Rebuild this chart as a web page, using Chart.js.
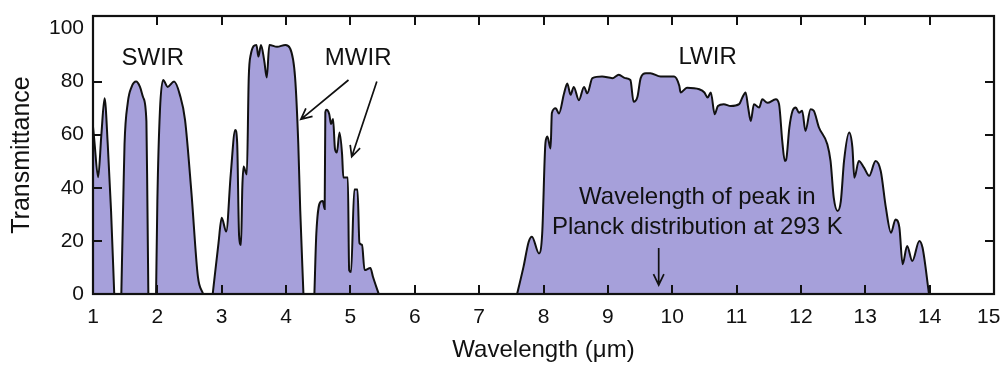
<!DOCTYPE html>
<html lang="en">

<head>
    <meta charset="UTF-8">
    <title>Atmospheric Transmittance</title>
    <script src="https://cdn.jsdelivr.net/npm/chart.js"></script>
    <style>
        body {
            margin: 0;
            background: #fff;
        }
    </style>
</head>

<body>
    <canvas id="transChart" width="1002" height="367"></canvas>

    <script>
        // wavelength in um, transmittance in %
        var band1Wl = [1.0, 1.02, 1.08, 1.13, 1.18, 1.23, 1.28, 1.33];
        var band1Tr = [63, 58, 44, 60, 73.7, 56, 31.6, 0];

        var band2Wl = [1.44, 1.47, 1.49, 1.54, 1.60, 1.67, 1.73, 1.78, 1.83, 1.845, 1.86];
        var band2Tr = [0, 35, 56.5, 72, 78, 80, 78, 74, 65, 35, 0];

        var band3Wl = [1.98, 2.00, 2.04, 2.09, 2.16, 2.26, 2.35, 2.43, 2.53, 2.63, 2.71];
        var band3Tr = [0, 35, 69, 80.6, 78, 80, 75, 65.6, 38, 6.5, 0];

        var band4Wl = [2.86, 2.95, 3.0, 3.07, 3.14, 3.21, 3.24, 3.27, 3.30, 3.32, 3.34, 3.37, 3.39, 3.42, 3.45, 3.54,
            3.57, 3.61, 3.66, 3.70, 3.74, 3.86, 3.99, 4.06, 4.14, 4.19, 4.22, 4.27];
        var band4Tr = [0, 19.2, 28.7, 23.5, 45, 61.8, 57, 22, 18.5, 40, 48, 46, 45, 81.5, 90, 93.8,
            89.4, 93.8, 88, 81.5, 93.8, 93.1, 93.8, 92.6, 81.6, 56.4, 31.6, 0];

        var band5Wl = [4.44, 4.47, 4.54, 4.57, 4.60, 4.61, 4.63, 4.67, 4.70, 4.73, 4.76, 4.79, 4.83, 4.87, 4.89,
            4.96, 4.98, 5.01, 5.06, 5.11, 5.14, 5.18, 5.22, 5.31, 5.35, 5.44];
        var band5Tr = [0, 22.7, 34.8, 35, 32, 68.4, 69.4, 67.8, 64, 65.9, 54.6, 53.3, 60.8, 52.7, 43.9,
            43.9, 9, 8.3, 39.4, 39.4, 19.2, 18.5, 9, 9.8, 6.5, 0];

        var band6Wl = [7.59, 7.69, 7.77, 7.82, 7.93, 7.98, 8.03, 8.06, 8.11, 8.13, 8.19, 8.24, 8.32, 8.37, 8.42,
            8.47, 8.55, 8.63, 8.68, 8.76, 8.91, 9.07, 9.17, 9.27, 9.35, 9.40, 9.46, 9.51, 9.59, 9.66, 9.82,
            10.03, 10.11, 10.13, 10.23, 10.42, 10.50, 10.55, 10.60, 10.66, 10.71, 10.80, 10.91, 11.04, 11.09,
            11.14, 11.18, 11.22, 11.27, 11.35, 11.40, 11.48, 11.61, 11.66, 11.71, 11.75, 11.77, 11.82, 11.87,
            11.92, 11.97, 12.02, 12.07, 12.15, 12.20, 12.28, 12.41, 12.46, 12.51, 12.57, 12.62, 12.67, 12.75,
            12.80, 12.83, 12.90, 12.98, 13.06, 13.16, 13.24, 13.32, 13.40, 13.47, 13.53, 13.58, 13.65, 13.73,
            13.84, 13.89, 13.99];
        var band6Tr = [0, 10.3, 19.7, 21.6, 15.3, 22.9, 56.8, 59.3, 54.8, 68.2, 70, 68, 75.6, 79.3, 75,
            78, 73, 78, 75.6, 81.3, 81.9, 81.3, 82.6, 81.3, 80.6, 72.4, 74.3, 81.3, 83.1, 83.1, 81.9,
            81.9, 78.4, 75.9, 77.7, 77.1, 75.9, 74, 75.9, 67.7, 70.8, 71.5, 70.8, 71.5, 74,
            75.9, 70.2, 65.2, 71.5, 70.2, 73.3, 72, 73.3, 71.5, 57.6, 50.1, 50.5, 62.7, 69,
            70.2, 68.3, 69, 61.4, 69.6, 69, 62.7, 56.4, 50.1, 36.3, 31.3, 35, 50.1, 60.8,
            55.1, 43.8, 50.1, 47.6, 44.5, 50.1, 46.3, 32.5, 23.1, 28.1, 25, 11.2, 18.1, 12.4,
            20, 17.4, 0];

        var xTicks = [1, 2, 3, 4, 5, 6, 7, 8, 9, 10, 11, 12, 13, 14, 15];
        var yTicks = [0, 20, 40, 60, 80, 100];

        // labels and arrows placed in data units
        var notes = [
            { text: 'SWIR', x: 1.93, y: 88.9 },
            { text: 'MWIR', x: 5.12, y: 88.9 },
            { text: 'LWIR', x: 10.55, y: 89.3 },
            { text: 'Wavelength of peak in', x: 10.39, y: 36.5 },
            { text: 'Planck distribution at 293 K', x: 10.39, y: 25.2 }
        ];
        var arrows = [
            { x1: 4.97, y1: 80.6, x2: 4.23, y2: 65.8 },
            { x1: 5.41, y1: 80, x2: 5.02, y2: 51.7 },
            { x1: 9.79, y1: 17.3, x2: 9.79, y2: 3.4 }
        ];

        var FONT = "'Liberation Sans', Arial, Helvetica, sans-serif";
        var INK = '#111';
        var FILL = 'rgb(166, 160, 218)';

        function toPoints(xs, ys) {
            return xs.map((v, i) => ({ x: v, y: ys[i] }));
        }

        var bands = [
            [band1Wl, band1Tr], [band2Wl, band2Tr], [band3Wl, band3Tr],
            [band4Wl, band4Tr], [band5Wl, band5Tr], [band6Wl, band6Tr]
        ];

        var datasets = bands.map(b => ({
            data: toPoints(b[0], b[1]),
            borderColor: INK,
            borderWidth: 2,
            backgroundColor: FILL,
            fill: 'origin',
            pointRadius: 0,
            cubicInterpolationMode: 'monotone'
        }));

        var framePlugin = {
            id: 'frame',
            afterDatasetsDraw(chart) {
                var ctx = chart.ctx;
                var a = chart.chartArea;
                var xs = chart.scales.x;
                var ys = chart.scales.y;
                var tl = 9;

                ctx.save();
                ctx.strokeStyle = INK;
                ctx.lineWidth = 2.2;
                ctx.strokeRect(a.left, a.top, a.right - a.left, a.bottom - a.top);

                ctx.lineWidth = 2;
                ctx.beginPath();
                xTicks.slice(1, -1).forEach(v => {
                    var px = Math.round(xs.getPixelForValue(v));
                    ctx.moveTo(px, a.bottom);
                    ctx.lineTo(px, a.bottom - tl);
                    ctx.moveTo(px, a.top);
                    ctx.lineTo(px, a.top + tl);
                });
                yTicks.slice(1, -1).forEach(v => {
                    var py = Math.round(ys.getPixelForValue(v));
                    ctx.moveTo(a.left, py);
                    ctx.lineTo(a.left + tl, py);
                    ctx.moveTo(a.right, py);
                    ctx.lineTo(a.right - tl, py);
                });
                ctx.stroke();

                ctx.fillStyle = INK;
                ctx.font = '24px ' + FONT;
                ctx.textAlign = 'center';
                ctx.textBaseline = 'middle';
                notes.forEach(n => {
                    ctx.fillText(n.text, xs.getPixelForValue(n.x), ys.getPixelForValue(n.y));
                });

                ctx.lineWidth = 1.7;
                arrows.forEach(ar => {
                    var x1 = xs.getPixelForValue(ar.x1), y1 = ys.getPixelForValue(ar.y1);
                    var x2 = xs.getPixelForValue(ar.x2), y2 = ys.getPixelForValue(ar.y2);
                    var ang = Math.atan2(y2 - y1, x2 - x1);
                    var h = 12, spread = 0.45;
                    ctx.beginPath();
                    ctx.moveTo(x1, y1);
                    ctx.lineTo(x2, y2);
                    ctx.moveTo(x2 - h * Math.cos(ang - spread), y2 - h * Math.sin(ang - spread));
                    ctx.lineTo(x2, y2);
                    ctx.lineTo(x2 - h * Math.cos(ang + spread), y2 - h * Math.sin(ang + spread));
                    ctx.stroke();
                });
                ctx.restore();
            }
        };

        var ctx = document.getElementById('transChart').getContext('2d');
        var chart = new Chart(ctx, {
            type: 'line',
            data: { datasets: datasets },
            plugins: [framePlugin],
            options: {
                responsive: false,
                devicePixelRatio: 1,
                animation: false,
                layout: { padding: { top: 16, right: 8, left: 0, bottom: 0 } },
                plugins: {
                    legend: { display: false },
                    tooltip: { enabled: false }
                },
                scales: {
                    x: {
                        type: 'linear',
                        min: 1,
                        max: 15,
                        afterBuildTicks: s => { s.ticks = xTicks.map(v => ({ value: v })); },
                        afterFit: s => { s.height = 73; s.paddingLeft = 0; s.paddingRight = 8; },
                        grid: { display: false, drawTicks: false },
                        border: { display: false },
                        ticks: {
                            color: INK,
                            padding: 11,
                            maxRotation: 0,
                            font: { family: FONT, size: 21 },
                            // last label sits a little inside the frame, as in the source
                            callback: v => v === 15 ? '15\u2002' : String(v)
                        },
                        title: {
                            display: true,
                            text: 'Wavelength (μm)',
                            color: INK,
                            padding: { top: 0, bottom: 2 },
                            font: { family: FONT, size: 24 }
                        }
                    },
                    y: {
                        type: 'linear',
                        min: 0,
                        max: 104.7,
                        afterBuildTicks: s => { s.ticks = yTicks.map(v => ({ value: v })); },
                        afterFit: s => { s.width = 93; s.paddingTop = 0; s.paddingBottom = 0; },
                        grid: { display: false, drawTicks: false },
                        border: { display: false },
                        ticks: {
                            color: INK,
                            padding: 9,
                            font: { family: FONT, size: 21 }
                        },
                        title: {
                            display: true,
                            text: 'Transmittance',
                            color: INK,
                            padding: { top: 7, bottom: 0 },
                            font: { family: FONT, size: 25 }
                        }
                    }
                }
            }
        });
    </script>
</body>

</html>
